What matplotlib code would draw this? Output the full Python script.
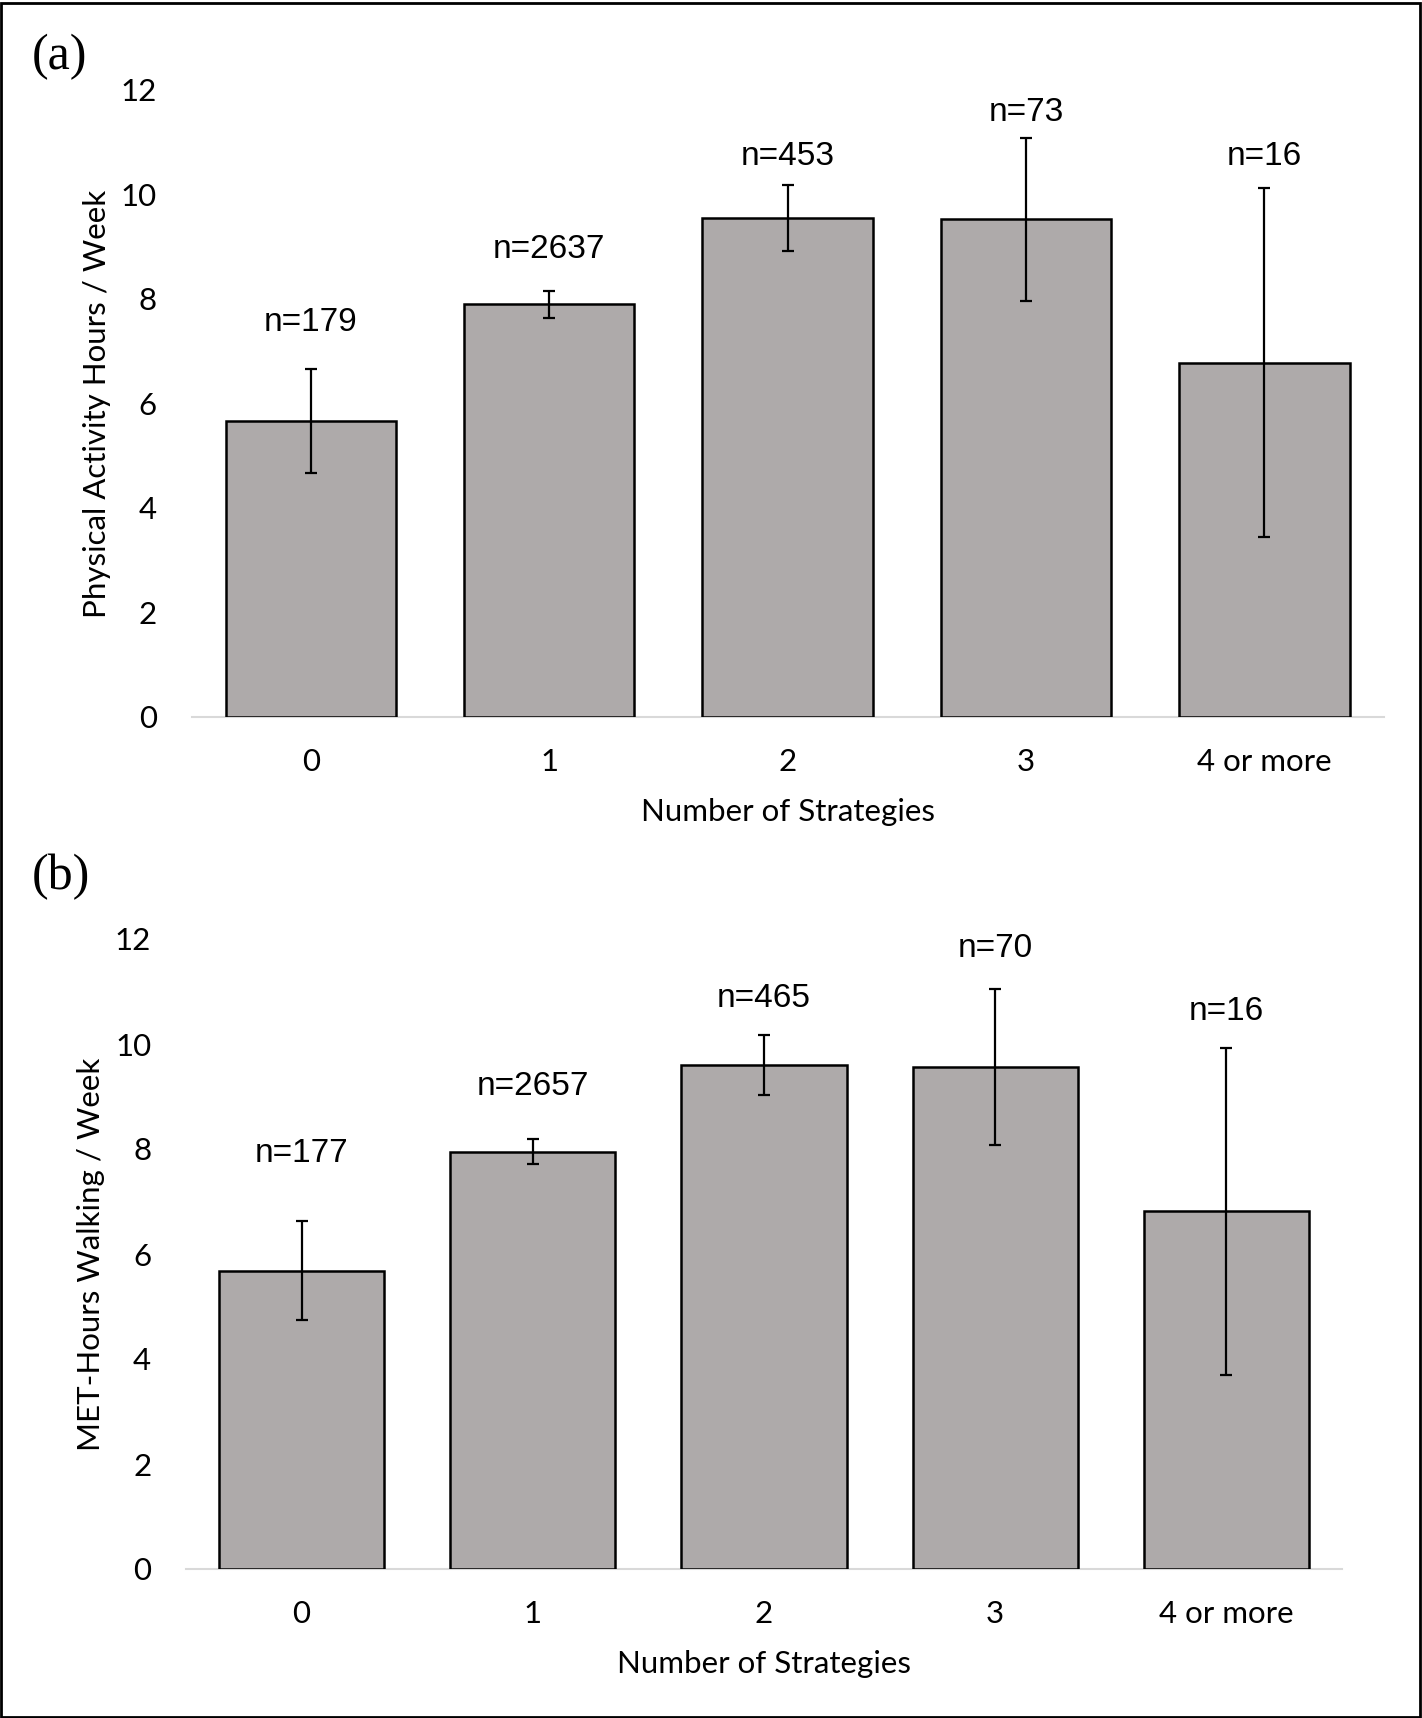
import matplotlib
matplotlib.use("Agg")
import matplotlib.pyplot as plt
from matplotlib.patches import Rectangle

# ---------------- data ----------------
categories = ["0", "1", "2", "3", "4 or more"]

pa_means = [5.66, 7.90, 9.55, 9.52, 6.78]
pa_errors = [1.00, 0.26, 0.63, 1.56, 3.34]
pa_n = ["n=179", "n=2637", "n=453", "n=73", "n=16"]

met_means = [5.68, 7.95, 9.60, 9.56, 6.81]
met_errors = [0.94, 0.24, 0.57, 1.49, 3.11]
met_n = ["n=177", "n=2657", "n=465", "n=70", "n=16"]

yticks = [0, 2, 4, 6, 8, 10, 12]

# ---------------- layout ----------------
W, H = 1422, 1718
pa_label_y = [7.54, 8.94, 10.72, 11.56, 10.72]
met_label_y = [7.91, 9.19, 10.86, 11.81, 10.61]

BAR_COLOR = "#AEAAAA"
TICK_FONT = "Lato"
N_FONT = "Liberation Sans"
TFS = 22.5

fig = plt.figure(figsize=(W / 100, H / 100), dpi=100)


def px_axes(left, right, top, bottom):
    return fig.add_axes([left / W, (H - bottom) / H, (right - left) / W, (bottom - top) / H])


def draw_panel(ax, means, errors, nlabels, label_y, ylabel, tag, tag_xy):
    x = list(range(len(categories)))
    ax.bar(x, means, width=0.715, color=BAR_COLOR, edgecolor="black", linewidth=1.8, zorder=2)
    ax.errorbar(x, means, yerr=errors, fmt="none", ecolor="black", elinewidth=1.6,
                capsize=4, capthick=1.6, zorder=3)
    for xi, lab, ly in zip(x, nlabels, label_y):
        ax.text(xi, ly, lab, ha="center", va="center", fontsize=24, family=N_FONT)
    ax.set_xlim(-0.5, len(categories) - 0.5)
    ax.set_ylim(0, 12)
    ax.set_yticks(yticks)
    ax.set_yticklabels([str(t) for t in yticks], fontsize=TFS, family=TICK_FONT)
    ax.set_xticks(x)
    ax.set_xticklabels(categories, fontsize=TFS, family=TICK_FONT)
    ax.tick_params(axis="y", length=0, pad=25)
    ax.tick_params(axis="x", length=0, pad=22)
    for s in ["top", "right", "left"]:
        ax.spines[s].set_visible(False)
    ax.spines["bottom"].set_color("#d9d9d9")
    ax.spines["bottom"].set_linewidth(1.5)
    ax.spines["bottom"].set_zorder(1)
    ax.set_xlabel("Number of Strategies", fontsize=TFS, family=TICK_FONT, labelpad=16)
    ax.set_ylabel(ylabel, fontsize=TFS, family=TICK_FONT, labelpad=7)
    fig.text(tag_xy[0] / W, 1 - tag_xy[1] / H, tag, fontsize=36, family="Liberation Serif",
             ha="left", va="center")


ax1 = px_axes(191.7, 1383.6, 89.8, 717)
draw_panel(ax1, pa_means, pa_errors, pa_n, pa_label_y,
           "Physical Activity Hours / Week", "(a)", (32, 57))

ax2 = px_axes(186, 1342, 939, 1569)
draw_panel(ax2, met_means, met_errors, met_n, met_label_y,
           "MET-Hours Walking / Week", "(b)", (32, 877))

fig.patches.append(Rectangle((1.5 / W, 1.5 / H), 1 - 4 / W, 1 - 4 / H, transform=fig.transFigure,
                             fill=False, edgecolor="black", linewidth=2))

fig.savefig("out.png", dpi=100)
